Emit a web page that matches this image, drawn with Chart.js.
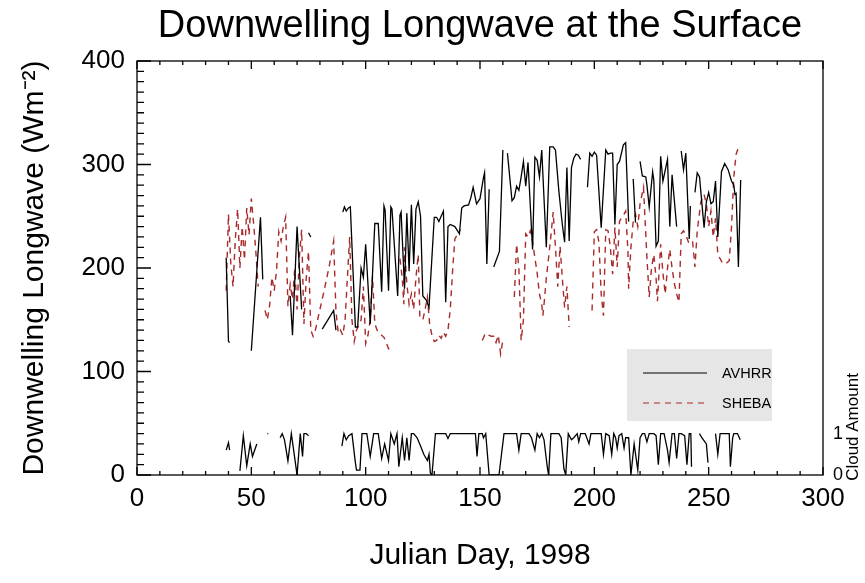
<!DOCTYPE html>
<html>
<head>
<meta charset="utf-8">
<script src="https://cdn.jsdelivr.net/npm/chart.js@4"></script>
<style>
body{margin:0;background:#fff;}
#caja{width:865px;height:583px;position:relative;}
</style>
</head>
<body>
<div id="caja"><canvas id="grafico"></canvas></div>
<script>
// Julian day / value pairs, null = gap in the record
const avhrrDays = [39,40,40.5,45, 50,54,55,60, 67,68,70,72,73.5, 75,76,78, 81,86,87,88.5,
90,90.7,91.5,92.5,93.3,95.5,96.5,98,99,100,102,104,105.5,107,108,108.5,110,111,111.5,114,115,115.5,117,118,119,120,121,122,123,124,125,126.5,127.7,130,131,132,134,135,136,137,139,141,142,143,145,146,147,148.5,150,151.5,152,153,154,155,
156,158.5,160,161,
162,164,165,166,167,168,169,170,171,173,174,175,176,177,179,180.5,182,183,184.5,186,187,188,189,190,191,192,193,194,195.5,
197,198,199,200,201,203,205,206,207,208,209,210,211,212.7,213.7,215,216,
217,218,219,
220,221,222.5,223,224,225.5,226,227,228,229,230,232,233,234,236,237,
238,239,240,241.5,242,243,
244,245,246,248,249,250,251,252,253,254,255.6,257,258.5,260,261,261.5,262,263,264];
const avhrrLw = [210,129,128,null, 120,249,189,null, 173,135,240,160,null, 234,230,null, 141,159,140,null,
254,259,255,258,259,143,143,200,191,223,146,243,243,177,260,256,178,259,257,173,251,254,180,253,197,261,204,257,264,250,173,169,162,249,249,245,255,167,240,242,240,233,258,260,261,268,278,262,267,287,292,204,276,null,
201,216,314,null,
311,265,268,279,275,288,303,279,302,218,307,304,288,314,220,317,317,314,274,242,225,297,226,297,306,310,309,305,null,
278,311,308,312,309,239,314,310,311,311,242,300,303,319,321,245,null,
286,244,null,
303,289,288,280,259,293,285,221,226,308,284,305,240,290,240,null,
313,295,311,228,260,null,
273,292,288,239,264,273,262,264,284,230,293,301,295,284,280,271,272,201,285];

const shebaDays = [39,40,41,42,43,44,45,46,47,48,49,50,51,52,53,54.5,
56,57,58,59,60,61,62,63,64,65,66,67,68,69,70,71,72,73,74,75,76,77,78,80,82,84,86,87,88,89,90,91,92,93,94,95,96,97,98,99,100,101,102,103,104,105,106,107,108,109,110,111.7,113,
115,116,116.7,117,118,119,120,121,122,123,123.7,125,126,127,128,129,130,131,132,133,134,135,136,137,138,139,140,141.5,146,
151,152,153,154,155,156,157,158,159,160,162,
165,166,167,168,169,170,171,172,173,174,175,176,177,177.5,178,179,180,181,182,183,184,185,186,187,188,189,194,
199,200,201,202,203,204,205,206,207,208,209,210,211,212,213,213.7,214.7,215,216,217,218,219,220,221.5,222,223,224,225,226,227,227.6,229,230,231,232,233,234,235,236,237,238,239,240,241.5,243,244,245,246.6,248,249,250,251,252,253,254,255,256,257.5,259,260,261,262,263.4];
const shebaLw = [178,252,205,182,228,257,200,240,208,258,232,267,243,215,182,null,
159,150,164,191,178,197,235,226,240,249,163,184,170,199,160,210,237,146,190,216,140,134,140,160,180,201,226,159,137,140,135,150,190,230,150,129,140,145,150,182,127,135,150,192,146,140,137,135,133,128,122,122,null,
209,190,165,220,185,165,175,160,191,213,153,150,160,172,145,135,129,130,135,132,138,134,140,160,197,228,232,237,null,
130,135,133,135,134,134,128,135,117,130,null,
172,223,200,130,150,233,230,236,225,210,195,175,165,154,165,190,210,231,254,220,182,221,190,162,182,143,null,
159,235,237,225,175,154,237,236,220,194,239,201,245,249,252,255,216,180,220,245,252,240,262,278,255,210,172,200,213,190,168,223,195,175,200,218,200,185,175,167,233,236,232,223,225,201,236,264,271,262,240,255,230,248,213,209,205,204,207,240,288,310,319];

const cloudDays = [39,40,40.5,42, 45,46.5,48,49.5,50.5,52.4,55, 57,57.4,60,
62.6,63.5,64.5,66,67.5,68.5,70,71.4,72.4,73,74,75,80,
89.6,90.5,91.5,92.6,94,95.5,96,97.5,98.4,100.5,102,103.5,105.5,107,108.3,110,111,112.5,113.7,114.5,116,117,118,119,120,121,122.5,124,125.4,127,127.7,128.3,129,130.5,135,136,137,148,148.7,149.5,151,151.5,152.5,154,158.3,160.5,
166,167,168,171.4,172.5,174,175,176,177,178,179.4,180,181,184.5,185.5,186.7,187.5,188.6,190,191,192.5,193.2,194,196,197.7,198.5,200,203,204,205,206.5,207.6,208.5,209.3,210,210.8,212,213,213.7,215,216,217.4,219,220,221,222,223,224,226,227,228,229,230.5,232,232.7,234,235,236,237,238,239.5,240.5,241.5,242.2,242.5,244,
246,247,249,249.7,251,
253,254,255,259,259.5,260.5,261,262.6,263.8];
const cloudAmt = [0.6,0.78,0.6,null, 0.1,0.95,0.22,0.75,0.45,0.75,null, 1,1,null,
0.9,1,0.85,0.34,1,0.6,0,1,0.45,1,1,0.95,null,
0.7,1,0.85,0.95,1,0.3,0.12,0.12,1,1,0.45,1,1,0.4,0.75,0.35,1,0.75,1,0.2,0.9,0.35,0.9,0.35,1,1,0.9,0.7,0.5,0.35,0.5,0.05,0,1,1,0.88,1,1,0.45,1,1,0.9,1,0,0,1,
1,0.6,1,1,0.9,0.6,1,0.9,1,0.85,0.2,0,1,1,0.9,0.15,0,1,0.85,0.9,1,0.8,1,1,0.75,1,1,1,0.5,1,0.95,0.5,1,0.9,0.65,0.95,1,0.65,0.9,0.9,0,0.75,0.12,0.9,1,1,0.8,1,1,0.95,0.25,1,1,0.6,0.3,1,1,0.4,1,1,0.95,0.25,1,1,0.2,null,
1,0.9,0.75,0.3,null,
1,0.5,1,1,0.2,0.9,1,1,0.85];

const xTicks = [0,50,100,150,200,250,300];
const cloudTicks = [0,1];

function puntos(dias, vals){
  return dias.map((d,i)=>({x:d, y:vals[i]}));
}

const rojo = '#a82a2a';
const fuente = '"Liberation Sans", Arial, Helvetica, sans-serif';
Chart.defaults.font.family = fuente;
Chart.defaults.color = '#000';

// IDL style frame with inward ticks, legend box and extra texts
const marco = {
  id:'marco',
  afterDatasetsDraw(chart){
    const {ctx, chartArea:a, scales} = chart;
    ctx.save();
    ctx.strokeStyle = '#000';
    ctx.lineWidth = 1.3;
    ctx.strokeRect(a.left, a.top, a.right-a.left, a.bottom-a.top);
    ctx.beginPath();
    for(let d=0; d<=300; d+=10){
      const px = scales.x.getPixelForValue(d);
      const len = d%50===0 ? 8 : 4;
      ctx.moveTo(px, a.bottom); ctx.lineTo(px, a.bottom-len);
      ctx.moveTo(px, a.top); ctx.lineTo(px, a.top+len);
    }
    for(let v=0; v<=400; v+=10){
      const py = scales.y.getPixelForValue(v);
      const len = v%100===0 ? 14 : 7;
      ctx.moveTo(a.left, py); ctx.lineTo(a.left+len, py);
    }
    ctx.stroke();

    // title, centred over the plot box
    ctx.fillStyle = '#000';
    ctx.font = '38px ' + fuente;
    ctx.textAlign = 'center';
    ctx.textBaseline = 'middle';
    ctx.fillText('Downwelling Longwave at the Surface', (a.left+a.right)/2, 27);

    // legend box
    const bx = a.right-196, by = a.bottom-126;
    ctx.fillStyle = '#e6e6e6';
    ctx.fillRect(bx, by, 145, 72);
    ctx.lineWidth = 1;
    ctx.strokeStyle = '#000';
    ctx.beginPath(); ctx.moveTo(bx+16, by+24); ctx.lineTo(bx+80, by+24); ctx.stroke();
    ctx.strokeStyle = rojo;
    ctx.setLineDash([6,5]);
    ctx.beginPath(); ctx.moveTo(bx+16, by+54); ctx.lineTo(bx+80, by+54); ctx.stroke();
    ctx.setLineDash([]);
    ctx.fillStyle = '#000';
    ctx.font = '14.5px ' + fuente;
    ctx.textAlign = 'left';
    ctx.fillText('AVHRR', bx+95, by+25);
    ctx.fillText('SHEBA', bx+95, by+55);

    // right axis title
    ctx.translate(853, 427);
    ctx.rotate(-Math.PI/2);
    ctx.textAlign = 'center';
    ctx.font = '17px ' + fuente;
    ctx.fillText('Cloud Amount', 0, 0);
    ctx.restore();
  }
};

const ctx = document.getElementById('grafico');

new Chart(ctx,{
  type:'line',
  data:{
    datasets:[
      {label:'AVHRR', data:puntos(avhrrDays, avhrrLw), borderColor:'#000', borderWidth:1.3, pointRadius:0, yAxisID:'y'},
      {label:'SHEBA', data:puntos(shebaDays, shebaLw), borderColor:rojo, borderWidth:1.4, borderDash:[6,5], pointRadius:0, yAxisID:'y'},
      {label:'Cloud', data:puntos(cloudDays, cloudAmt), borderColor:'#000', borderWidth:1.3, pointRadius:0, yAxisID:'y2'}
    ]
  },
  options:{
    responsive:true,
    maintainAspectRatio:false,
    animation:false,
    spanGaps:false,
    layout:{padding:{top:61, left:0, right:0, bottom:0}},
    plugins:{
      legend:{display:false},
      tooltip:{enabled:false},
      title:{display:false}
    },
    scales:{
      x:{
        type:'linear', min:0, max:300, position:'bottom',
        afterBuildTicks:(s)=>{ s.ticks = xTicks.map(v=>({value:v})); },
        ticks:{font:{size:26}, padding:8, maxRotation:0, autoSkip:false},
        grid:{display:false, drawTicks:false},
        border:{display:false},
        title:{display:true, text:'Julian Day, 1998', font:{size:30}, padding:{top:0, bottom:9}},
        afterFit:(s)=>{ s.height = 108; }
      },
      y:{
        min:0, max:400, position:'left',
        ticks:{stepSize:100, font:{size:26}, padding:12},
        grid:{display:false, drawTicks:false},
        border:{display:false},
        title:{display:true, text:'Downwelling Longwave (Wm⁻²)', font:{size:30}, padding:{top:17, bottom:0}},
        afterFit:(s)=>{ s.width = 137; }
      },
      y2:{
        min:0, max:10, position:'right',
        afterBuildTicks:(s)=>{ s.ticks = cloudTicks.map(v=>({value:v})); },
        ticks:{font:{size:18}, padding:10},
        grid:{display:false, drawTicks:false},
        border:{display:false},
        afterFit:(s)=>{ s.width = 42; }
      }
    }
  },
  plugins:[marco]
});
</script>
</body>
</html>
